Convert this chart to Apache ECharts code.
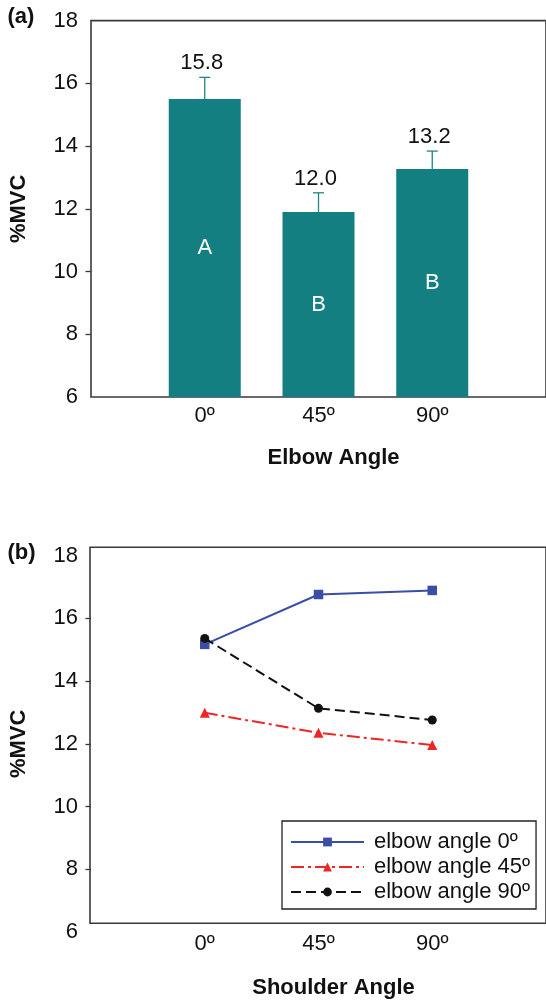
<!DOCTYPE html>
<html>
<head>
<meta charset="utf-8">
<script src="https://cdn.jsdelivr.net/npm/echarts@6/dist/echarts.min.js"></script>
<style>
html,body{margin:0;padding:0;background:#fff;}
#chart{width:546px;height:1002px;}
</style>
</head>
<body>
<div id="chart"></div>
<script>
// ---- data ----
const categories = ['0º', '45º', '90º'];
const barMeans = [15.5, 11.9, 13.27];
const barErrTop = [16.19, 12.51, 13.84];
const barValueLabels = ['15.8', '12.0', '13.2'];
const barLetters = ['A', 'B', 'B'];
const yMin = 6, yMax = 18, yStep = 2;
const innerTicks = [8, 10, 12, 14, 16];
const seriesNames = ['elbow angle 0º', 'elbow angle 45º', 'elbow angle 90º'];
const elbow0 = [15.17, 16.76, 16.89];
const elbow45 = [12.99, 12.35, 11.96];
const elbow90 = [15.36, 13.13, 12.76];

// ---- styles ----
const FONT = 'Liberation Sans, Arial, sans-serif';
const FS = 22;
const TXT = '#111';
const FRAME = '#3a3a3a';
const TEAL = '#137F80';

const chart = echarts.init(document.getElementById('chart'), null, {renderer: 'canvas'});

const catFormatter = v => (categories[v] !== undefined ? categories[v] : '');

function xAxisCfg(gridIndex, name, nameGap, margin) {
  return {
    type: 'value', gridIndex: gridIndex, min: -1, max: 3, interval: 1,
    axisLine: {show: false, onZero: false}, axisTick: {show: false}, splitLine: {show: false},
    axisLabel: {formatter: catFormatter, fontFamily: FONT, fontSize: FS, color: TXT, margin: margin, showMinLabel: false, showMaxLabel: false},
    name: name, nameLocation: 'middle', nameGap: nameGap,
    nameTextStyle: {fontFamily: FONT, fontSize: FS, fontWeight: 'bold', color: TXT, padding: [0, 0, 0, 30]}
  };
}
function yAxisCfg(gridIndex) {
  return {
    type: 'value', gridIndex: gridIndex, min: yMin, max: yMax, interval: yStep,
    axisLine: {show: false, onZero: false},
    axisTick: {show: true, length: 5.5, customValues: innerTicks, lineStyle: {color: FRAME, width: 1.3}},
    splitLine: {show: false},
    axisLabel: {fontFamily: FONT, fontSize: FS, color: TXT, margin: 13},
    name: '%MVC', nameLocation: 'middle', nameGap: 61,
    nameTextStyle: {fontFamily: FONT, fontSize: FS, fontWeight: 'bold', color: TXT}
  };
}

const option = {
  animation: false,
  backgroundColor: '#fff',
  textStyle: {fontFamily: FONT},
  grid: [
    {left: 90, top: 20.6, right: -4, height: 376.4, show: true, borderColor: FRAME, borderWidth: 1.6, backgroundColor: 'transparent'},
    {left: 90, top: 555.6, right: -4, height: 376.4, show: false},
    {left: 90, top: 547.3, right: -4, height: 376, show: true, borderColor: FRAME, borderWidth: 1.6, backgroundColor: 'transparent'}
  ],
  xAxis: [
    xAxisCfg(0, 'Elbow Angle', 50, 8),
    xAxisCfg(1, 'Shoulder Angle', 45, 1),
    {type: 'value', gridIndex: 2, min: 0, max: 1, show: false}
  ],
  yAxis: [
    yAxisCfg(0),
    yAxisCfg(1),
    {type: 'value', gridIndex: 2, min: 0, max: 1, show: false}
  ],
  legend: {
    data: seriesNames,
    orient: 'vertical',
    left: 282, top: 821,
    padding: [10, 6, 6, 8],
    itemWidth: 73, itemHeight: 11, itemGap: 3,
    borderColor: '#222', borderWidth: 1.3, backgroundColor: '#fff',
    textStyle: {fontFamily: FONT, fontSize: FS, color: TXT, lineHeight: 22, padding: [0, 0, 0, 5]}
  },
  graphic: [
    {type: 'text', left: 7.5, top: 5.5, style: {text: '(a)', fontFamily: FONT, fontSize: FS, fontWeight: 'bold', fill: TXT}},
    {type: 'text', left: 7.5, top: 542, style: {text: '(b)', fontFamily: FONT, fontSize: FS, fontWeight: 'bold', fill: TXT}}
  ],
  series: [
    {
      type: 'bar', xAxisIndex: 0, yAxisIndex: 0, barWidth: 72,
      data: barMeans.map((v, i) => [i, v]),
      itemStyle: {color: TEAL},
      label: {show: true, position: 'inside', formatter: p => barLetters[p.dataIndex], color: '#fff', fontFamily: FONT, fontSize: FS},
      z: 2
    },
    {
      type: 'custom', xAxisIndex: 0, yAxisIndex: 0,
      data: barMeans.map((v, i) => [i, v, barErrTop[i]]),
      renderItem: function (params, api) {
        const p0 = api.coord([api.value(0), api.value(1)]);
        const p1 = api.coord([api.value(0), api.value(2)]);
        const st = {stroke: '#1f8585', lineWidth: 1.3};
        return {type: 'group', children: [
          {type: 'line', shape: {x1: p0[0], y1: p0[1], x2: p1[0], y2: p1[1]}, style: st},
          {type: 'line', shape: {x1: p1[0] - 5.5, y1: p1[1], x2: p1[0] + 5.5, y2: p1[1]}, style: st}
        ]};
      },
      z: 3
    },
    {
      type: 'scatter', xAxisIndex: 0, yAxisIndex: 0, symbolSize: 0,
      data: barErrTop.map((v, i) => [i, v]),
      itemStyle: {opacity: 1},
      label: {show: true, position: 'top', distance: 3, offset: [-3, 0], formatter: p => barValueLabels[p.dataIndex], color: TXT, opacity: 1, fontFamily: FONT, fontSize: FS},
      silent: true
    },
    {
      name: seriesNames[0], type: 'line', xAxisIndex: 1, yAxisIndex: 1,
      data: elbow0.map((v, i) => [i, v]),
      symbol: 'rect', symbolSize: 9.5,
      lineStyle: {color: '#3a4ea6', width: 2, type: 'solid'},
      itemStyle: {color: '#3a4ea6'}, z: 3
    },
    {
      name: seriesNames[1], type: 'line', xAxisIndex: 1, yAxisIndex: 1,
      data: elbow45.map((v, i) => [i, v]),
      symbol: 'triangle', symbolSize: 10,
      lineStyle: {color: '#ee2626', width: 2, type: [13, 4, 3, 4]},
      itemStyle: {color: '#ee2626'}, z: 3
    },
    {
      name: seriesNames[2], type: 'line', xAxisIndex: 1, yAxisIndex: 1,
      data: elbow90.map((v, i) => [i, v]),
      symbol: 'circle', symbolSize: 9,
      lineStyle: {color: '#111', width: 2, type: [10, 5]},
      itemStyle: {color: '#111'}, z: 4
    }
  ]
};
chart.setOption(option);
</script>
</body>
</html>
